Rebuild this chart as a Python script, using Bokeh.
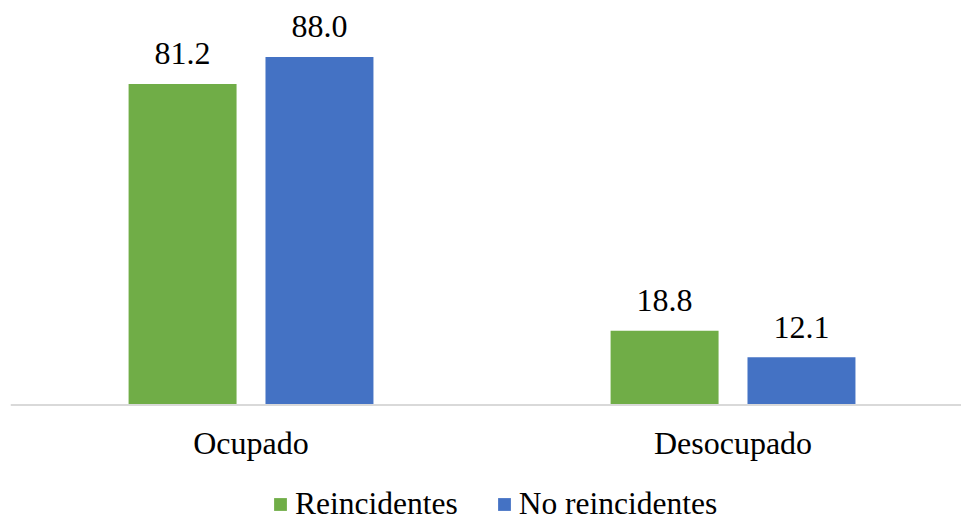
from bokeh.plotting import figure
from bokeh.models import ColumnDataSource, Range1d, Legend, LegendItem, Span
from bokeh.core.properties import value
from bokeh.transform import dodge
from bokeh.embed import file_html
from bokeh.resources import INLINE

categories = ["Ocupado", "Desocupado"]
reincidentes = [81.2, 18.8]
no_reincidentes = [88.0, 12.1]
series_names = ["Reincidentes", "No reincidentes"]

GREEN = "#70AD47"
BLUE = "#4472C4"
FONT = "'Liberation Serif', 'Times New Roman', serif"
FONT_SIZE = "32px"

xs = list(range(len(categories)))
source = ColumnDataSource(data=dict(
    x=xs,
    zero=[0] * len(xs),
    cat=categories,
    reinc=reincidentes,
    noreinc=no_reincidentes,
    reinc_lbl=[f"{v:.1f}" for v in reincidentes],
    noreinc_lbl=[f"{v:.1f}" for v in no_reincidentes],
))

# The frame runs to the bottom edge so the category names and the legend
# can sit below the zero line inside it.
p = figure(
    frame_width=951, frame_height=506,
    x_range=Range1d(-0.499, 1.474),
    y_range=Range1d(-27.9, 100),
    output_backend="svg", toolbar_location=None,
    min_border_left=10, min_border_right=0,
    min_border_top=9, min_border_bottom=0,
)

bar_w = 0.224
off = 0.142
r1 = p.vbar(x=dodge("x", -off), top="reinc", width=bar_w, source=source,
            fill_color=GREEN, line_color=None)
r2 = p.vbar(x=dodge("x", off), top="noreinc", width=bar_w, source=source,
            fill_color=BLUE, line_color=None)

# value labels above the bars
for col, lbl, d in (("reinc", "reinc_lbl", -off), ("noreinc", "noreinc_lbl", off)):
    p.text(x=dodge("x", d), y=col, text=lbl, source=source,
           text_align="center", text_baseline="alphabetic", y_offset=-30,
           text_font=value(FONT), text_font_size=value(FONT_SIZE),
           text_color="#000000")

# category axis: baseline and names
p.add_layout(Span(location=0, dimension="width", line_color="#D9D9D9", line_width=2))
p.text(x="x", y="zero", text="cat", source=source,
       text_align="center", text_baseline="alphabetic", y_offset=38,
       text_font=value(FONT), text_font_size=value(FONT_SIZE),
       text_color="#000000")

p.xaxis.visible = False
p.yaxis.visible = False
p.xgrid.grid_line_color = None
p.ygrid.grid_line_color = None
p.outline_line_color = None

legend = Legend(
    items=[LegendItem(label=series_names[0], renderers=[r1]),
           LegendItem(label=series_names[1], renderers=[r2])],
    orientation="horizontal",
    location=(262, -7),
    label_text_font=FONT, label_text_font_size="31.5px", label_text_color="#000000",
    glyph_width=16, glyph_height=16, label_standoff=7, spacing=38,
    padding=0, margin=0, border_line_color=None, background_fill_alpha=0,
)
p.add_layout(legend, "center")

open("out.html", "w").write(file_html(p, INLINE))
